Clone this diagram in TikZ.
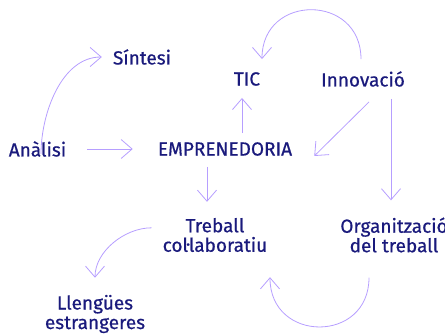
\documentclass[tikz,border=0pt]{standalone}
\usepackage{fontspec}
\setmainfont{Fira Sans}[FakeBold=0.6]
\usetikzlibrary{arrows.meta}
\definecolor{navy}{HTML}{1A1A7C}
\definecolor{lila}{HTML}{B69EFF}
\begin{document}
\begin{tikzpicture}[x=1pt, y=-1pt,
    every node/.style={text=navy, font=\fontsize{19}{19.5}\selectfont, align=center, inner sep=0pt},
    arr/.style={draw=lila, line width=0.8pt, -{Straight Barb[length=11pt, width=19pt]}}]
    \path[use as bounding box] (0,0) rectangle (445,334);
    \node (sint) at (142,57)  {Síntesi};
    \node (tic)  at (247,79)  {TIC};
    \node (inno) at (363,79)  {Innovació};
    \node (anal) at (37.5,149) {Anàlisi};
    \node (empr) at (225,149) {EMPRENEDORIA};
    \node (treb) at (215,235) {Treball\\coŀlaboratiu};
    \node (orga) at (394,235) {Organització\\del treball};
    \node (llen) at (95,314)  {Llengües\\estrangeres};

    % fletxes
    \draw[arr] ([xshift=3.5pt, yshift=-13pt]anal.north) to[out=90, in=180, looseness=0.9] ([xshift=-11pt]sint.west);
    \draw[arr] ([xshift=21pt]anal.east) -- ([xshift=-25pt]empr.west);
    \draw[arr] ([xshift=17pt, yshift=9pt]empr.north) -- ([xshift=-5pt, yshift=-12pt]tic.south);
    \draw[arr] ([xshift=-2pt, yshift=12pt]inno.north) to[out=90, in=90, looseness=1.7] ([xshift=15pt, yshift=13pt]tic.north);
    \draw[arr] ([xshift=6pt, yshift=-15pt]inno.south) -- ([xshift=22pt, yshift=-7pt]empr.east);
    \draw[arr] ([xshift=28pt, yshift=-12pt]inno.south) -- ([xshift=-3pt, yshift=17pt]orga.north);
    \draw[arr] ([xshift=-18pt, yshift=-11pt]empr.south) -- ([xshift=-8pt, yshift=16pt]treb.north);
    \draw[arr] ([xshift=-11pt, yshift=-10pt]treb.north west) to[out=180, in=90, looseness=0.9] ([yshift=17pt]llen.north);
    \draw[arr] ([xshift=-25pt, yshift=-25pt]orga.south) to[out=-90, in=-90, looseness=1.7] ([xshift=55pt, yshift=-25pt]treb.south);
\end{tikzpicture}
\end{document}
